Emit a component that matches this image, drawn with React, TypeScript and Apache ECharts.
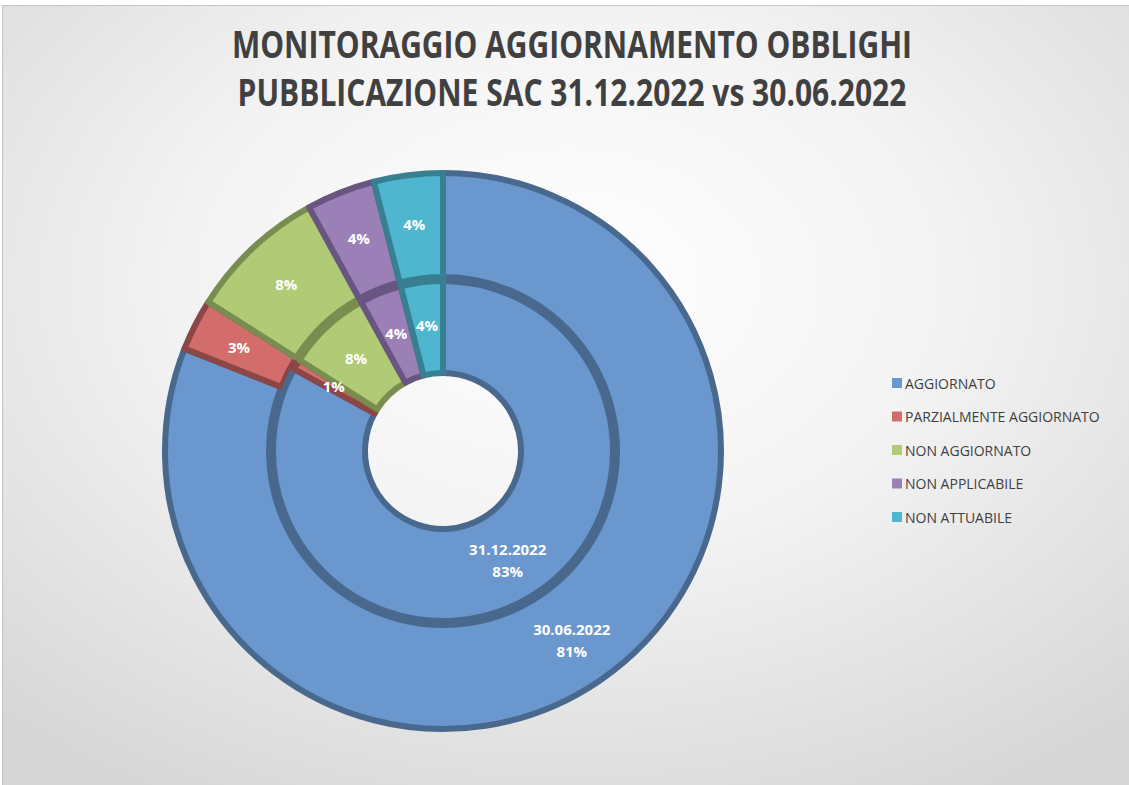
import React, { useEffect, useRef } from "react";
import * as echarts from "echarts";

const titleLines = [
  "MONITORAGGIO AGGIORNAMENTO OBBLIGHI",
  "PUBBLICAZIONE SAC 31.12.2022 vs 30.06.2022",
];
const categories = [
  "AGGIORNATO",
  "PARZIALMENTE AGGIORNATO",
  "NON AGGIORNATO",
  "NON APPLICABILE",
  "NON ATTUABILE",
];
const innerSeriesName = "31.12.2022";
const innerValues = [83, 1, 8, 4, 4];
const outerSeriesName = "30.06.2022";
const outerValues = [81, 3, 8, 4, 4];

const faceColors = ["#6a97cd", "#d26d6b", "#b0ca75", "#9a80b7", "#4eb6cf"];
const edgeColors = ["#49688d", "#8c4645", "#7a8d50", "#685581", "#387f92"];

const FONT = "'Open Sans', 'Noto Sans', sans-serif";

function makeData(values: number[]) {
  return categories.map((name, i) => ({
    name,
    value: values[i],
    itemStyle: {
      color: faceColors[i],
      borderColor: edgeColors[i],
      borderWidth: 6,
    },
  }));
}

export default function App() {
  const ref = useRef<HTMLDivElement>(null);
  useEffect(() => {
    document.body.style.margin = "0";
    const chart = echarts.init(ref.current!, null, { renderer: "svg" });
    const labelFor = (seriesName: string) => ({
      show: true,
      position: "inside",
      color: "#ffffff",
      fontWeight: "bold",
      fontSize: 15,
      lineHeight: 22,
      fontFamily: FONT,
      formatter: (p: any) =>
        p.dataIndex === 0 ? `${seriesName}\n${p.value}%` : `${p.value}%`,
    });
    const titleCenters = [44, 92];
    chart.setOption({
      animation: false,
      graphic: [
        {
          type: "rect",
          z: -10,
          silent: true,
          shape: { x: 2.5, y: 5.5, width: 1130, height: 790 },
          style: {
            fill: {
              type: "radial",
              x: 0.5,
              y: 0.35,
              r: 0.75,
              colorStops: [
                { offset: 0, color: "#ffffff" },
                { offset: 0.45, color: "#f3f3f3" },
                { offset: 1, color: "#d6d6d6" },
              ],
            },
            stroke: "#c4c4c4",
            lineWidth: 1,
          },
        },
        ...titleLines.map((t, i) => ({
          type: "text",
          silent: true,
          x: 572,
          y: titleCenters[i],
          scaleX: 1,
          scaleY: 1.26,
          style: {
            text: t,
            fill: "#404040",
            font: `bold 30px ${FONT}`,
            textAlign: "center",
            textVerticalAlign: "middle",
          },
        })),
      ],
      legend: {
        orient: "vertical",
        left: 887,
        top: 371,
        itemWidth: 10,
        itemHeight: 10,
        itemGap: 19.5,
        icon: "rect",
        data: categories,
        itemStyle: { borderWidth: 0 },
        textStyle: {
          color: "#404040",
          fontSize: 14,
          fontFamily: FONT,
          padding: [0, 0, 0, -2],
        },
      },
      series: [
        {
          name: outerSeriesName,
          type: "pie",
          center: [443, 451],
          radius: [174, 278],
          startAngle: 90,
          clockwise: true,
          label: labelFor(outerSeriesName),
          labelLine: { show: false },
          emphasis: { disabled: true },
          data: makeData(outerValues),
        },
        {
          name: innerSeriesName,
          type: "pie",
          center: [443, 451],
          radius: [78, 170],
          startAngle: 90,
          clockwise: true,
          label: labelFor(innerSeriesName),
          labelLine: { show: false },
          emphasis: { disabled: true },
          data: makeData(innerValues),
        },
      ],
    });
    return () => chart.dispose();
  }, []);
  return <div ref={ref} style={{ width: 1129, height: 785 }} />;
}
